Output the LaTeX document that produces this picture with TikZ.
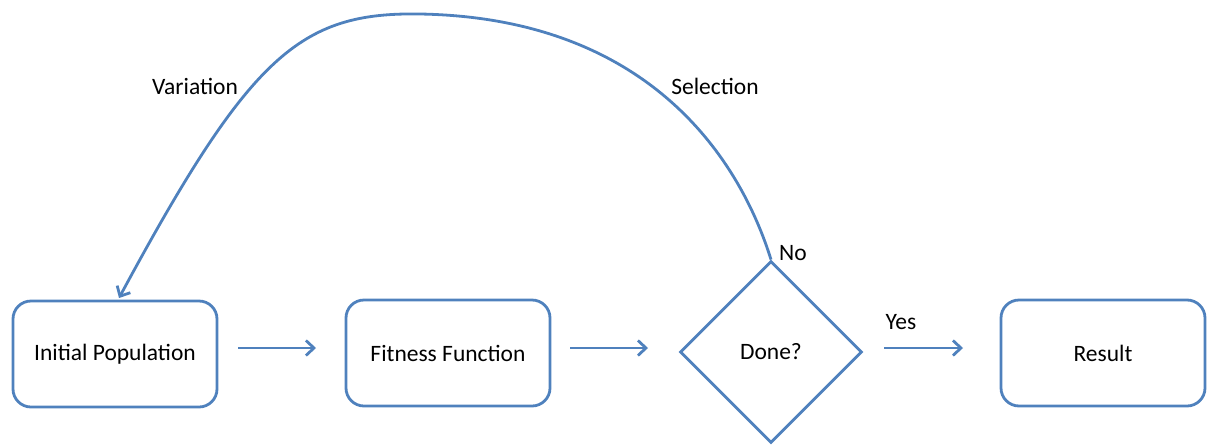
\documentclass[tikz,border=0pt]{standalone}
\usepackage{fontspec}
\setmainfont{Carlito}
\usetikzlibrary{arrows.meta,shapes.geometric}
\definecolor{ablue}{RGB}{79,129,189}
\begin{document}
\begin{tikzpicture}[x=1pt,y=-1pt,
  every node/.style={font=\fontsize{23.5}{28}\selectfont, text=black},
  box/.style={draw=ablue, line width=2.8pt, rounded corners=18pt, minimum width=204pt, minimum height=106pt, inner sep=0pt},
  dia/.style={draw=ablue, line width=2.8pt, diamond, minimum width=182pt, minimum height=182pt, inner sep=0pt, aspect=1},
  conn/.style={draw=ablue, line width=2.8pt, -{Straight Barb[length=8pt,width=15pt,line width=2.8pt]}},
  lbl/.style={inner sep=0pt}]
\useasboundingbox (0,0) rectangle (1207,445);
\node[box] (ip) at (115,354) {Initial Population};
\node[box] (ff) at (448,353) {Fitness Function};
\node[dia] (dn) at (771,352) {Done?};
\node[box] (rs) at (1103,353) {Result};
\coordinate (a1s) at (238,348); \coordinate (a1e) at (316,348);
\coordinate (a2s) at (570,348); \coordinate (a2e) at (648,348);
\coordinate (a3s) at (884,348); \coordinate (a3e) at (963,348);
\draw[conn] (a1s) -- (a1e);
\draw[conn] (a2s) -- (a2e);
\draw[conn] (a3s) -- (a3e);
\coordinate (top) at (420,14);
\coordinate (tip) at (119,298);
\draw[conn] (dn.north) .. controls (740,160) and (650,18) .. (top) .. controls (300,12) and (250,55) .. (tip);
\node[lbl] (yes) at (901,322) {Yes};
\node[lbl] (no) at (793,253) {No};
\node[lbl] (var) at (195,86) {Variation};
\node[lbl] (sel) at (715,86) {Selection};
\end{tikzpicture}
\end{document}
